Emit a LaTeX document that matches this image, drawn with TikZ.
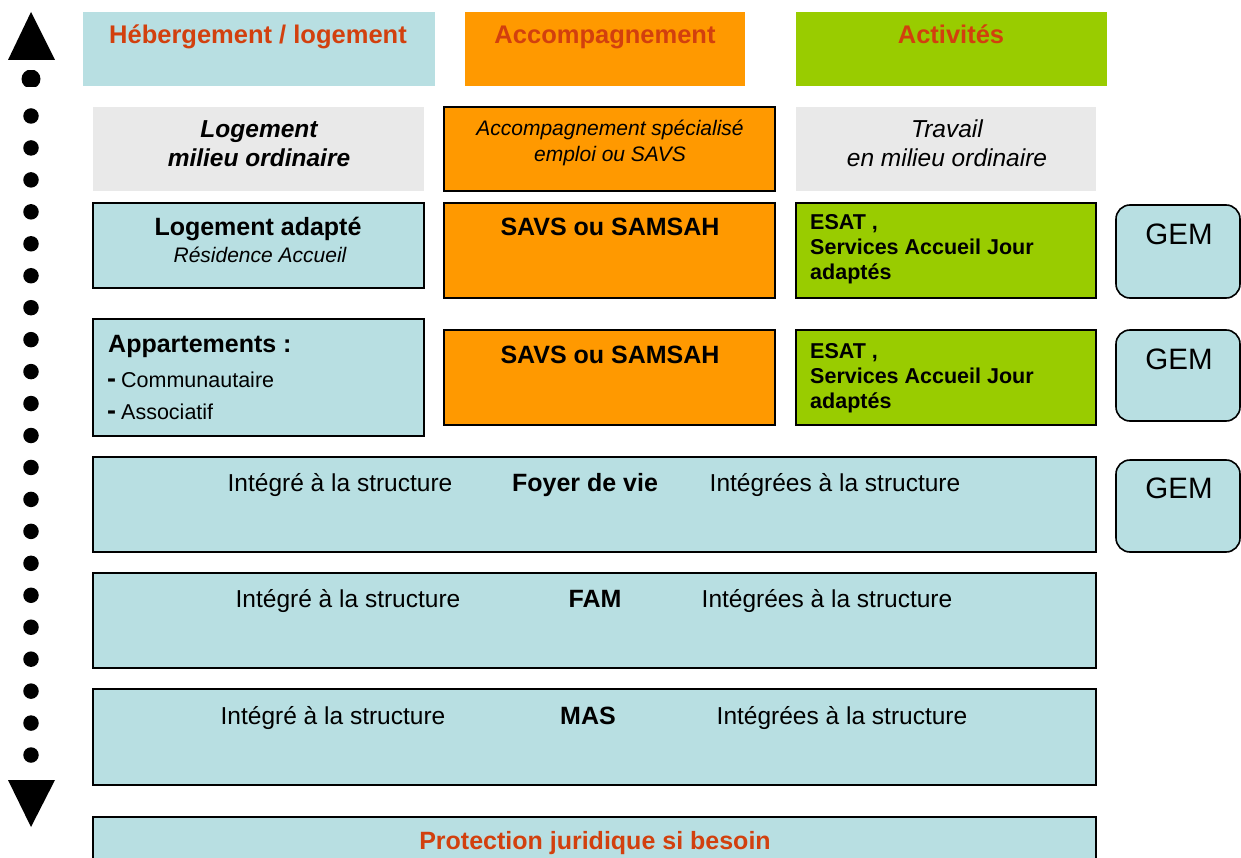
\documentclass[tikz,border=0pt]{standalone}
\usepackage{fontspec}
\setmainfont{Liberation Sans}
\definecolor{lblue}{HTML}{B8DFE2}
\definecolor{orng}{HTML}{FF9900}
\definecolor{grn}{HTML}{99CC00}
\definecolor{lgrey}{HTML}{E9E9E9}
\definecolor{redt}{HTML}{D2400E}
\newcommand\bx[6]{\node[#6,inner sep=0pt,outer sep=0pt,minimum width={(#4-#2)*1pt},minimum height={(#5-#3)*1pt}] (#1) at ({(#2+#4)/2},{(#3+#5)/2}) {};}
\newcommand\bigdash{{\fontsize{27}{30}\selectfont\bfseries -}\hspace{5pt}}
\tikzset{
  plain/.style={rectangle},
  framed/.style={rectangle,draw=black,line width=1.6pt},
  gem/.style={rectangle,rounded corners=14pt,draw=black,line width=1.6pt,fill=lblue},
  t/.style={inner sep=0pt,anchor=base},
  tl/.style={inner sep=0pt,anchor=base west},
  fhead/.style={font=\fontsize{25.5}{30}\selectfont\bfseries,text=redt},
  fbig/.style={font=\fontsize{24.5}{29}\selectfont},
  fbigb/.style={font=\fontsize{25}{29}\selectfont\bfseries},
  fbigbi/.style={font=\fontsize{24.5}{29}\selectfont\bfseries\itshape},
  fbigi/.style={font=\fontsize{24.5}{29}\selectfont\itshape},
  fsmi/.style={font=\fontsize{21}{25}\selectfont\itshape},
  fsm/.style={font=\fontsize{21.5}{25}\selectfont},
  fsmb/.style={font=\fontsize{21.5}{25}\selectfont\bfseries},
  fgem/.style={font=\fontsize{29.5}{34}\selectfont},
  dot/.style={circle,fill=black,inner sep=0pt,minimum size=15.5pt},
}
\begin{document}
\begin{tikzpicture}[x=1pt,y=-1pt]
\useasboundingbox (0,0) rectangle (1241,858);
\begin{scope}
\clip (0,0) rectangle (1241,858);
% headers
\bx{h1}{83}{12}{435}{86}{plain,fill=lblue}
\bx{h2}{465}{12}{745}{86}{plain,fill=orng}
\bx{h3}{796}{12}{1107}{86}{plain,fill=grn}
\node[t,fhead] (h1t) at (258,44) {Hébergement / logement};
\node[t,fhead] (h2t) at (605,44) {Accompagnement};
\node[t,fhead] (h3t) at (951,44) {Activités};
% row 1
\bx{r1a}{93}{107}{424}{191}{plain,fill=lgrey}
\bx{r1b}{444}{107}{775}{191}{framed,fill=orng}
\bx{r1c}{796}{107}{1096}{191}{plain,fill=lgrey}
\node[t,fbigbi] (r1a1) at (259,138) {Logement};
\node[t,fbigbi] (r1a2) at (259,167) {milieu ordinaire};
\node[t,fsmi] (r1b1) at (610,135.5) {Accompagnement spécialisé};
\node[t,fsmi] (r1b2) at (610,161.5) {emploi ou SAVS};
\node[t,fbigi] (r1c1) at (947,138) {Travail};
\node[t,fbigi] (r1c2) at (947,167) {en milieu ordinaire};
% row 2
\bx{r2a}{93}{203}{424}{288}{framed,fill=lblue}
\bx{r2b}{444}{203}{775}{298}{framed,fill=orng}
\bx{r2c}{796}{203}{1096}{298}{framed,fill=grn}
\bx{g1}{1116}{205}{1240}{298}{gem}
\node[t,fbigb] (r2a1) at (258,236) {Logement adapté};
\node[t,fsmi] (r2a2) at (260,262.5) {Résidence Accueil};
\node[t,fbigb] (r2b1) at (610,236) {SAVS ou SAMSAH};
\node[tl,fsmb] (r2c1) at (810,230) {ESAT ,};
\node[tl,fsmb] (r2c2) at (810,255) {Services Accueil Jour};
\node[tl,fsmb] (r2c3) at (810,280) {adaptés};
\node[t,fgem] (g1t) at (1179,245) {GEM};
% row 3
\bx{r3a}{93}{319}{424}{436}{framed,fill=lblue}
\bx{r3b}{444}{330}{775}{425}{framed,fill=orng}
\bx{r3c}{796}{330}{1096}{425}{framed,fill=grn}
\bx{g2}{1116}{330}{1240}{421}{gem}
\node[tl,font=\fontsize{25}{29}\selectfont\bfseries] (r3a1) at (108,352) {Appartements :};
\node[tl,fsm] (r3a2) at (107,387) {\bigdash Communautaire};
\node[tl,fsm] (r3a3) at (107,419) {\bigdash Associatif};
\node[t,fbigb] (r3b1) at (610,363) {SAVS ou SAMSAH};
\node[tl,fsmb] (r3c1) at (810,358) {ESAT ,};
\node[tl,fsmb] (r3c2) at (810,383) {Services Accueil Jour};
\node[tl,fsmb] (r3c3) at (810,408) {adaptés};
\node[t,fgem] (g2t) at (1179,369) {GEM};
% Foyer de vie
\bx{fv}{93}{457}{1096}{552}{framed,fill=lblue}
\bx{g3}{1116}{460}{1240}{552}{gem}
\node[t,fbig] (fv1) at (340,491) {Intégré à la structure};
\node[t,fbigb] (fv2) at (585,491) {Foyer de vie};
\node[t,fbig] (fv3) at (835,491) {Intégrées à la structure};
\node[t,fgem] (g3t) at (1179,498) {GEM};
% FAM
\bx{fam}{93}{573}{1096}{668}{framed,fill=lblue}
\node[t,fbig] (fam1) at (348,607) {Intégré à la structure};
\node[t,fbigb] (fam2) at (595,607) {FAM};
\node[t,fbig] (fam3) at (827,607) {Intégrées à la structure};
% MAS
\bx{mas}{93}{689}{1096}{785}{framed,fill=lblue}
\node[t,fbig] (mas1) at (333,724) {Intégré à la structure};
\node[t,fbigb] (mas2) at (588,724) {MAS};
\node[t,fbig] (mas3) at (842,724) {Intégrées à la structure};
% Protection
\bx{pj}{93}{817}{1096}{880}{framed,fill=lblue}
\node[t,fhead,font=\fontsize{25}{29}\selectfont\bfseries] (pjt) at (595,849) {Protection juridique si besoin};
% left arrow
\fill[black] (31,12) -- (55,60) -- (8,60) -- cycle;
\fill[black] (31,827) -- (55,780) -- (8,780) -- cycle;
\begin{scope}
\clip (20,71) rectangle (42,87);
\fill[black] (31,79) circle (9.5);
\end{scope}
\foreach \i in {0,...,20} {
  \node[dot] (d\i) at (31,{116+31.95*\i}) {};
}
\end{scope}
\end{tikzpicture}
\end{document}
